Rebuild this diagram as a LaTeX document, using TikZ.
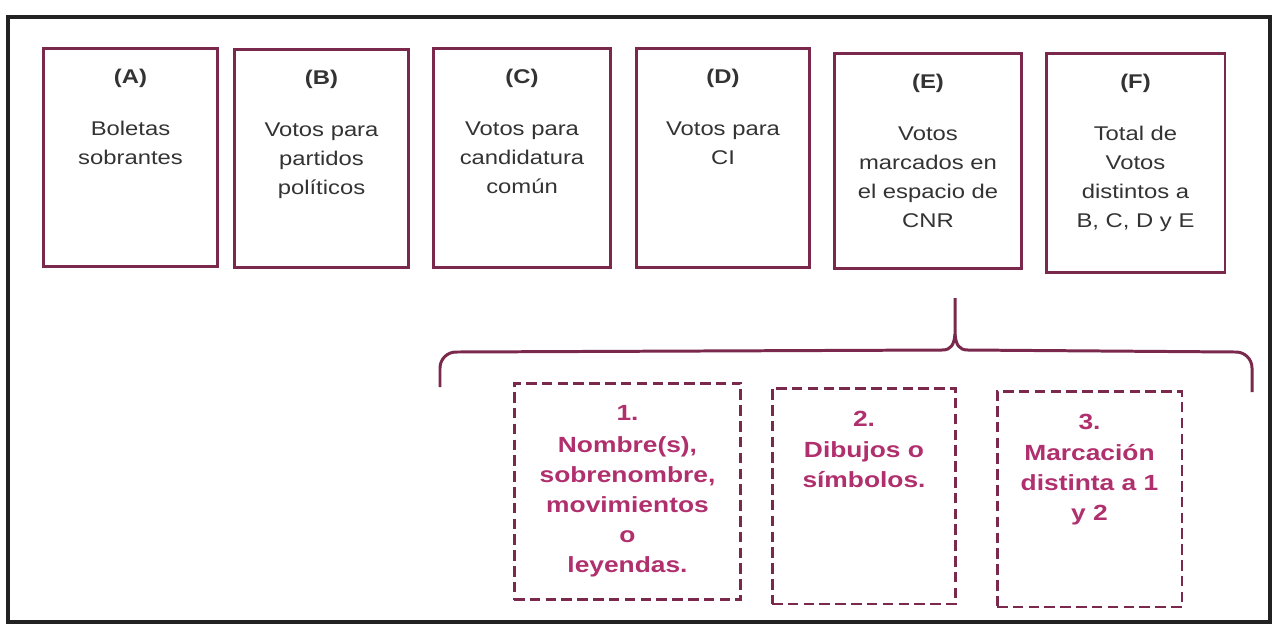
\documentclass[tikz,border=0pt]{standalone}
\usepackage{fontspec}
\setmainfont{Liberation Sans}[FakeStretch=1.2]
\usetikzlibrary{positioning}
\definecolor{boxred}{RGB}{122,40,76}
\definecolor{markred}{RGB}{176,48,110}
\definecolor{textgray}{RGB}{51,51,51}
\definecolor{framegray}{RGB}{34,34,34}

\begin{document}
\begin{tikzpicture}[x=0.02cm,y=-0.02cm,
    votebox/.style={draw=boxred,line width=1.7pt,inner sep=0pt},
    markbox/.style={draw=boxred,line width=1.7pt,inner sep=0pt,dash pattern=on 6pt off 3pt},
    votetext/.style={anchor=north,inner sep=0pt,align=center,text=textgray,font=\fontsize{11.3}{16.5}\selectfont},
    marktext/.style={anchor=north,inner sep=0pt,align=center,text=markred,font=\bfseries\fontsize{12.5}{17}\selectfont}]
  % page and frame
  \useasboundingbox (0,0) rectangle (1275,627);
  \draw[line width=2.3pt,framegray] (8,17) rectangle (1270,622);
  % top boxes
  \node[votebox,minimum width=3.5cm,minimum height=4.38cm] (A) at (130.5,157.5) {};
  \node[votebox,minimum width=3.5cm,minimum height=4.38cm] (B) at (321.5,158.5) {};
  \node[votebox,minimum width=3.56cm,minimum height=4.4cm] (C) at (522,158) {};
  \node[votebox,minimum width=3.48cm,minimum height=4.4cm] (D) at (723,158) {};
  \node[votebox,minimum width=3.76cm,minimum height=4.32cm] (E) at (928,161) {};
  \node[votebox,minimum width=3.58cm,minimum height=4.4cm] (F) at (1135.5,163) {};
  % texts of top boxes
  \node[votetext,below=0.44cm of A.north] (Atext) {\textbf{(A)}\\[13pt]Boletas\\sobrantes};
  \node[votetext,below=0.44cm of B.north] (Btext) {\textbf{(B)}\\[13pt]Votos para\\partidos\\políticos};
  \node[votetext,below=0.44cm of C.north] (Ctext) {\textbf{(C)}\\[13pt]Votos para\\candidatura\\común};
  \node[votetext,below=0.44cm of D.north] (Dtext) {\textbf{(D)}\\[13pt]Votos para\\CI};
  \node[votetext,below=0.44cm of E.north] (Etext) {\textbf{(E)}\\[13pt]Votos\\marcados en\\el espacio de\\CNR};
  \node[votetext,below=0.44cm of F.north] (Ftext) {\textbf{(F)}\\[13pt]Total de\\Votos\\distintos a\\B, C, D y E};
  % brace under E
  \draw[boxred,line width=1.7pt,line join=round]
    (440,387) -- (440,368) to[out=90,in=180] (456,352) -- (942,350)
    .. controls (951,350) and (954,345) .. (955,334) -- (955,298);
  \draw[boxred,line width=1.7pt,line join=round]
    (955,334) .. controls (956,345) and (959,350) .. (968,350)
    -- (1236,352) to[out=0,in=90] (1252,368) -- (1252,392);
  % dashed boxes
  \node[markbox,minimum width=4.54cm,minimum height=4.34cm] (M1) at (627.5,491.5) {};
  \node[markbox,minimum width=3.68cm,minimum height=4.32cm] (M2) at (864,496) {};
  \node[markbox,minimum width=3.7cm,minimum height=4.32cm] (M3) at (1089.5,499) {};
  \node[marktext,below=0.48cm of M1.north] (M1text) {1.\\[1pt]Nombre(s),\\sobrenombre,\\movimientos\\o\\leyendas.};
  \node[marktext,below=0.48cm of M2.north] (M2text) {2.\\[1pt]Dibujos o\\símbolos.};
  \node[marktext,below=0.48cm of M3.north] (M3text) {3.\\[1pt]Marcación\\distinta a 1\\y 2};
\end{tikzpicture}
\end{document}
